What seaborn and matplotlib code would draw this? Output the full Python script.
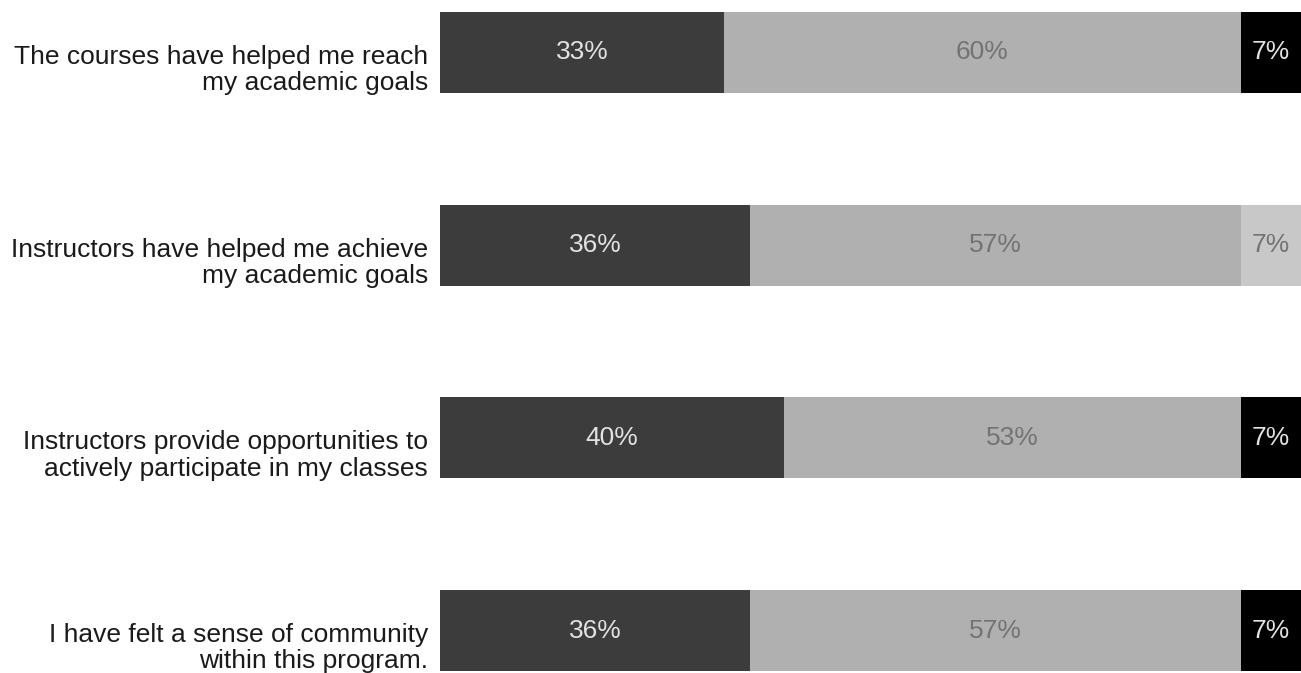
import matplotlib
matplotlib.use("Agg")
import matplotlib.pyplot as plt
import matplotlib.transforms as mtransforms
import seaborn as sns
import pandas as pd
import numpy as np

sns.set_theme(style="white")
plt.rcParams["font.family"] = ["Liberation Sans", "DejaVu Sans"]

statements = [
    "The courses have helped me reach\nmy academic goals",
    "Instructors have helped me achieve\nmy academic goals",
    "Instructors provide opportunities to\nactively participate in my classes",
    "I have felt a sense of community\nwithin this program.",
]
strongly_agree = [33, 36, 40, 36]
agree = [60, 57, 53, 57]
neutral = [0, 7, 0, 0]
disagree = [7, 0, 7, 7]

series_names = ["Strongly agree", "Agree", "Neutral", "Disagree"]
series_values = [strongly_agree, agree, neutral, disagree]
series_colors = ["#3c3c3c", "#b0b0b0", "#c8c8c8", "#000000"]
label_colors = ["#e2e2e2", "#737373", "#737373", "#e2e2e2"]

df = pd.DataFrame({"statement": statements})
vals = np.array(series_values, dtype=float)
cums = np.cumsum(vals, axis=0)
for i, name in enumerate(series_names):
    df[name + "_cum"] = cums[i]

fig = plt.figure(figsize=(13.01, 6.73), dpi=100)
ax = fig.add_axes([440 / 1301, 2 / 673, 861 / 1301, 659 / 673])

# stacked bars: draw cumulative totals from the outermost segment inward
for i in reversed(range(len(series_names))):
    sns.barplot(data=df, y="statement", x=series_names[i] + "_cum",
                color=series_colors[i], orient="h", width=0.42,
                saturation=1, linewidth=0, ax=ax)

# percentage labels centred in each segment
for i in range(len(series_names)):
    starts = cums[i] - vals[i]
    for j, v in enumerate(vals[i]):
        if v <= 0:
            continue
        ax.text(starts[j] + v / 2, j, f"{int(v)}%", ha="center", va="center",
                fontsize=19, color=label_colors[i])

ax.set_xlim(0, 100)
ax.set_ylim(3.21, -0.21)
ax.set_xlabel("")
ax.set_ylabel("")
ax.set_xticks([])
ax.tick_params(axis="y", length=0, pad=8.5, labelsize=19, labelcolor="#1a1a1a")
shift = mtransforms.ScaledTranslation(0, -0.14, fig.dpi_scale_trans)
for lab in ax.get_yticklabels():
    lab.set_horizontalalignment("right")
    lab.set_multialignment("right")
    lab.set_linespacing(1.12)
    lab.set_transform(lab.get_transform() + shift)
for s in ax.spines.values():
    s.set_visible(False)

fig.savefig("out.png", dpi=100, facecolor="white")
